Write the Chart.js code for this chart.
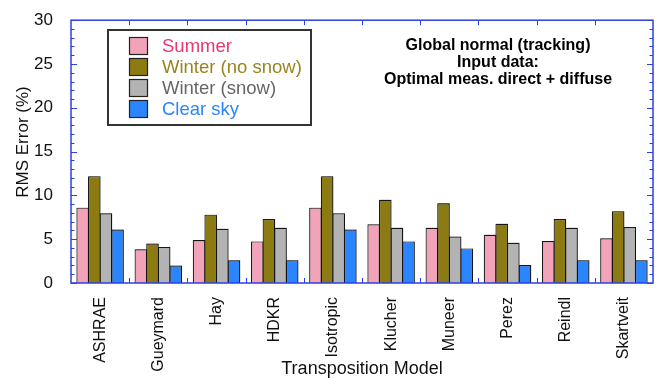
<!DOCTYPE html>
<html>
<head>
<meta charset="utf-8">
<script src="https://cdn.jsdelivr.net/npm/chart.js@4.4.0/dist/chart.umd.min.js"></script>
<style>
  html, body { margin: 0; padding: 0; background: #fff; }
  #wrap { width: 657px; height: 379px; }
</style>
</head>
<body>
<div id="wrap"><canvas id="rms"></canvas></div>
<script>
const models = ['ASHRAE', 'Gueymard', 'Hay', 'HDKR', 'Isotropic', 'Klucher', 'Muneer', 'Perez', 'Reindl', 'Skartveit'];
const summer   = [8.6, 3.85, 4.9, 4.75, 8.6, 6.7, 6.3, 5.5, 4.8, 5.1];
const winterNo = [12.2, 4.5, 7.8, 7.3, 12.2, 9.5, 9.1, 6.75, 7.3, 8.2];
const winterSn = [7.95, 4.1, 6.2, 6.3, 7.95, 6.3, 5.3, 4.6, 6.3, 6.4];
const clearSky = [6.1, 2.0, 2.6, 2.6, 6.1, 4.75, 3.95, 2.05, 2.6, 2.6];
const yTicks = [0, 5, 10, 15, 20, 25, 30];

const FONT = '"Liberation Sans", Arial, Helvetica, sans-serif';
const AXIS = '#2b3fe6';
const fills = ['#f2a3b9', '#8c7a13', '#b3b3b3', '#2a85ff'];
const labelColors = ['#e8386e', '#9a8420', '#666666', '#2a85ff'];
const notes = ['Global normal (tracking)', 'Input data:', 'Optimal meas. direct + diffuse'];

// faint grey halo up and to the right of each bar
const barShadow = {
  id: 'barShadow',
  beforeDatasetsDraw(chart) {
    const ctx = chart.ctx;
    ctx.save();
    ctx.shadowColor = 'rgba(0,0,0,0.3)';
    ctx.shadowOffsetX = 1;
    ctx.shadowOffsetY = -1;
    ctx.shadowBlur = 1;
  },
  afterDatasetsDraw(chart) { chart.ctx.restore(); }
};

// boxed frame with inward ticks, legend, titles and the note
const frame = {
  id: 'frame',
  afterDraw(chart) {
    const ctx = chart.ctx;
    const a = chart.chartArea;
    const y = chart.scales.y;
    ctx.save();
    ctx.strokeStyle = AXIS;
    ctx.lineWidth = 1.5;
    ctx.strokeRect(a.left, a.top, a.right - a.left, a.bottom - a.top);
    ctx.lineWidth = 1;
    ctx.beginPath();
    for (let v = 0; v <= 30; v++) {
      const py = Math.round(y.getPixelForValue(v)) + 0.5;
      const len = v % 5 === 0 ? 6 : 3.5;
      ctx.moveTo(a.left, py); ctx.lineTo(a.left + len, py);
      ctx.moveTo(a.right, py); ctx.lineTo(a.right - len, py);
    }
    const step = (a.right - a.left) / models.length;
    for (let i = 1; i < models.length; i++) {
      const px = Math.round(a.left + i * step) + 0.5;
      ctx.moveTo(px, a.top); ctx.lineTo(px, a.top + 5);
      ctx.moveTo(px, a.bottom); ctx.lineTo(px, a.bottom - 5);
    }
    ctx.stroke();

    // legend
    ctx.fillStyle = '#fff';
    ctx.fillRect(108, 30, 203, 95);
    ctx.strokeStyle = '#333';
    ctx.lineWidth = 2;
    ctx.strokeRect(108, 30, 203, 95);
    ctx.font = '18.5px ' + FONT;
    ctx.textBaseline = 'middle';
    ctx.textAlign = 'left';
    chart.data.datasets.forEach((ds, i) => {
      const cy = 46 + i * 21;
      ctx.fillStyle = ds.backgroundColor;
      ctx.fillRect(129.5, cy - 8.5, 18, 17);
      ctx.strokeStyle = '#222';
      ctx.lineWidth = 1.2;
      ctx.strokeRect(129.5, cy - 8.5, 18, 17);
      ctx.fillStyle = labelColors[i];
      ctx.fillText(ds.label, 162, cy + 1);
    });

    // note
    ctx.fillStyle = '#000';
    ctx.font = 'bold 16px ' + FONT;
    ctx.textAlign = 'center';
    notes.forEach((t, i) => ctx.fillText(t, 498, 46 + i * 16.7));

    // axis titles
    ctx.font = '18px ' + FONT;
    ctx.fillStyle = '#111';
    ctx.fillText('Transposition Model', (a.left + a.right) / 2, 369);
    ctx.font = '17px ' + FONT;
    ctx.translate(23, 142);
    ctx.rotate(-Math.PI / 2);
    ctx.fillText('RMS Error (%)', 0, 0);
    ctx.restore();
  }
};

const series = [
  ['Summer', summer],
  ['Winter (no snow)', winterNo],
  ['Winter (snow)', winterSn],
  ['Clear sky', clearSky]
];

new Chart(document.getElementById('rms').getContext('2d'), {
  type: 'bar',
  data: {
    labels: models,
    datasets: series.map(([label, data], i) => ({
      label: label,
      data: data,
      backgroundColor: fills[i],
      borderColor: '#1a1a1a',
      borderWidth: 1.2,
      inflateAmount: 0,
      categoryPercentage: 0.8,
      barPercentage: 1.08
    }))
  },
  options: {
    responsive: true,
    maintainAspectRatio: false,
    animation: false,
    layout: { padding: { left: 0, right: 4, top: 16, bottom: 0 } },
    plugins: { legend: { display: false }, tooltip: { enabled: false } },
    scales: {
      x: {
        grid: { display: false },
        border: { display: false },
        ticks: {
          autoSkip: false, minRotation: 90, maxRotation: 90,
          padding: 6, color: '#111', font: { family: FONT, size: 16 }
        },
        afterFit(scale) { scale.height = 96; }
      },
      y: {
        min: 0, max: 30,
        grid: { display: false },
        border: { display: false },
        afterBuildTicks(scale) { scale.ticks = yTicks.map(v => ({ value: v })); },
        ticks: { padding: 10, color: '#111', font: { family: FONT, size: 17 } },
        afterFit(scale) { scale.width = 71; }
      }
    }
  },
  plugins: [barShadow, frame]
});
</script>
</body>
</html>
